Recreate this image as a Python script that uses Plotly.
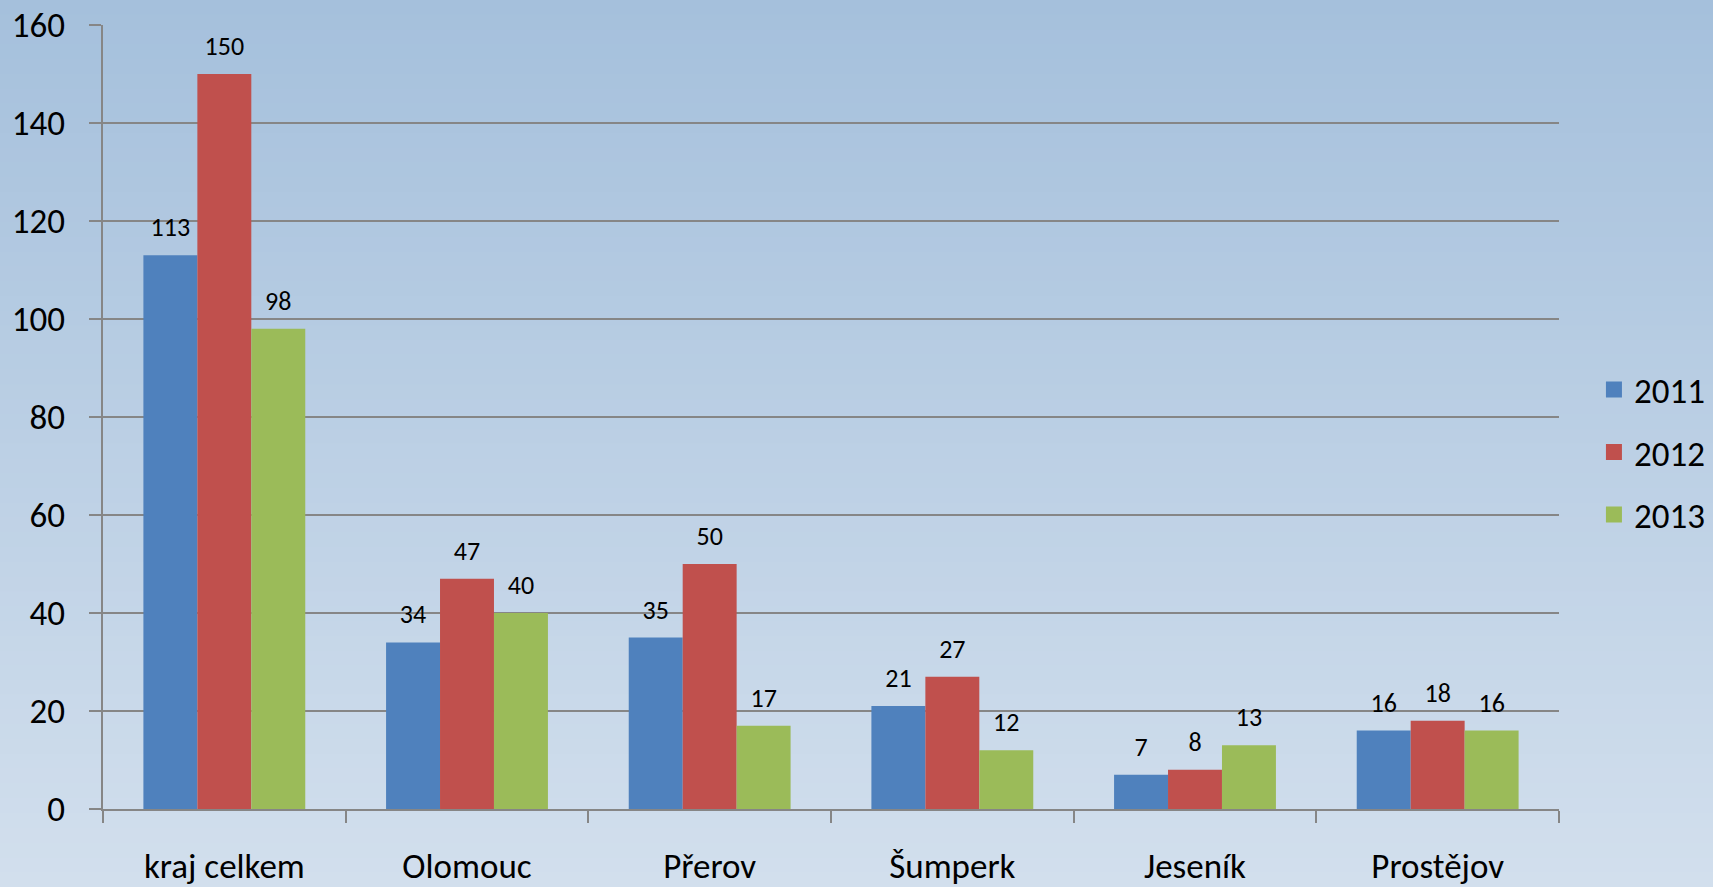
import plotly.graph_objects as go

# data
categories = ["kraj celkem", "Olomouc", "Přerov", "Šumperk", "Jeseník", "Prostějov"]
years = ["2011", "2012", "2013"]
values_2011 = [113, 34, 35, 21, 7, 16]
values_2012 = [150, 47, 50, 27, 8, 18]
values_2013 = [98, 40, 17, 12, 13, 16]

colors = ["#4F81BD", "#C0504D", "#9BBB59"]
FONT = "Carlito, Lato, 'Open Sans', sans-serif"

W, H = 1713, 887
ML, MR, MT, MB = 103, 154, 25, 78

fig = go.Figure()

for name, vals, col in zip(years, [values_2011, values_2012, values_2013], colors):
    fig.add_trace(go.Bar(
        x=categories, y=vals, name=name,
        marker=dict(color=col, line=dict(width=0)),
        text=vals,
        # empty second line lifts the label a bit above the bar
        texttemplate="<span style='font-size:26px'>%{text}</span><br> ",
        textposition="outside",
        textangle=0,
        constraintext="none",
        cliponaxis=False,
        textfont=dict(size=10, color="black", family=FONT),
        legendgroup=name,
        showlegend=False,
    ))
    # legend entry with a bigger square swatch
    fig.add_trace(go.Scatter(
        x=[None], y=[None], name=name, mode="markers",
        marker=dict(symbol="square", size=16, color=col),
        legendgroup=name,
    ))

# background gradient (vertical), drawn as bands in paper coords
top = (165, 192, 220)
bot = (210, 223, 237)
n = 60
ph = H - MT - MB
pw = W - ML - MR
y_lo = -MB / ph
y_hi = 1 + MT / ph
x_lo = -ML / pw
x_hi = 1 + MR / pw
shapes = []
for i in range(n):
    t = i / (n - 1)
    c = tuple(round(bot[k] + (top[k] - bot[k]) * t) for k in range(3))
    y0 = y_lo + (y_hi - y_lo) * i / n
    y1 = y_lo + (y_hi - y_lo) * (i + 1) / n + 0.002
    shapes.append(dict(type="rect", xref="paper", yref="paper", layer="below",
                       x0=x_lo - 0.01, x1=x_hi + 0.01, y0=y0, y1=y1,
                       fillcolor="rgb(%d,%d,%d)" % c, line=dict(width=0)))

fig.update_layout(
    width=W, height=H,
    margin=dict(l=ML, r=MR, t=MT, b=MB, autoexpand=False),
    paper_bgcolor="#BCD0E6",
    plot_bgcolor="rgba(0,0,0,0)",
    shapes=shapes,
    barmode="group",
    bargap=0.333,
    bargroupgap=0,
    font=dict(family=FONT, color="black"),
    legend=dict(
        x=1.024, y=0.455, xanchor="left", yanchor="middle",
        font=dict(size=35, family=FONT),
        traceorder="grouped", tracegroupgap=14,
        bgcolor="rgba(0,0,0,0)",
    ),
    showlegend=True,
)

fig.update_xaxes(
    showgrid=False, automargin=False,
    showline=True, linecolor="#868686", linewidth=2,
    ticks="outside", ticklen=12, tickcolor="#868686", tickwidth=2,
    tickson="boundaries",
    tickfont=dict(size=35, family=FONT),
    ticklabelstandoff=25,
)
fig.update_yaxes(
    range=[0, 160], dtick=20, automargin=False,
    showgrid=True, gridcolor="#868686", gridwidth=2,
    showline=True, linecolor="#868686", linewidth=2,
    ticks="outside", ticklen=12, tickcolor="#868686", tickwidth=2,
    tickfont=dict(size=35, family=FONT),
    ticklabelstandoff=17,
    zeroline=False,
)

# remove default page margin so the figure fills the window
fig.write_html("out.html", config={"displayModeBar": False},
               post_script="document.body.style.margin='0';")
